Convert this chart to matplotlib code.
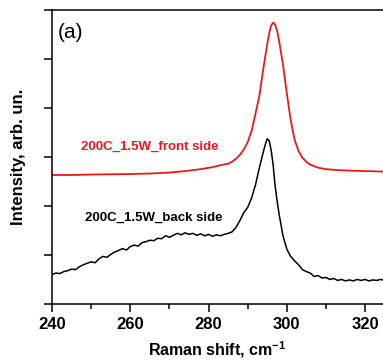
import matplotlib
matplotlib.use('Agg')
import matplotlib.pyplot as plt
from matplotlib.ticker import MultipleLocator, NullFormatter

plt.rcParams['font.family'] = ['Liberation Sans', 'DejaVu Sans']
plt.rcParams['mathtext.fontset'] = 'custom'
plt.rcParams['mathtext.bf'] = 'Liberation Sans:bold'
plt.rcParams['mathtext.rm'] = 'Liberation Sans:bold'

# Raman spectrum, front side (red)
front_x = [240, 245, 250, 255, 260, 265, 270, 274, 278, 281, 283, 285, 286,
           287, 288, 289, 290, 291, 292, 293, 294, 295, 295.5, 296, 296.5,
           297, 297.5, 298, 299, 300, 301, 302, 303, 304, 305, 306, 308,
           310, 313, 316, 320, 325]
front_y = [2.63, 2.63, 2.64, 2.645, 2.65, 2.66, 2.68, 2.71, 2.75, 2.79, 2.83,
           2.86, 2.90, 2.96, 3.04, 3.15, 3.30, 3.53, 3.88, 4.25, 4.80, 5.30,
           5.52, 5.68, 5.74, 5.70, 5.58, 5.38, 4.90, 4.30, 3.75, 3.35, 3.12,
           2.98, 2.90, 2.84, 2.78, 2.75, 2.73, 2.72, 2.71, 2.70]

# Raman spectrum, back side (black)
back_x = list(range(240, 295)) + [294.5, 295, 295.5, 296, 296.5, 297, 297.5] \
    + list(range(298, 326))
back_y = [0.60, 0.63, 0.62, 0.66, 0.68, 0.71, 0.70, 0.76, 0.80, 0.83,
          0.86, 0.84, 0.92, 0.97, 0.95, 1.01, 1.06, 1.09, 1.13, 1.10,
          1.17, 1.20, 1.18, 1.25, 1.27, 1.30, 1.29, 1.34, 1.33, 1.39,
          1.36, 1.40, 1.44, 1.41, 1.45, 1.42, 1.44, 1.40, 1.43, 1.39,
          1.42, 1.38, 1.41, 1.39, 1.42, 1.44, 1.47, 1.56, 1.70, 1.86,
          1.97, 2.16, 2.43, 2.78, 3.10,
          3.25, 3.37, 3.33, 3.14, 2.85, 2.42, 2.12,
          1.85, 1.40, 1.12, 0.97, 0.88, 0.80, 0.70, 0.66, 0.63, 0.56,
          0.58, 0.53, 0.54, 0.50, 0.52, 0.48, 0.50, 0.47, 0.49, 0.47,
          0.50, 0.48, 0.50, 0.47, 0.49, 0.48, 0.50, 0.48]

labels = ['200C_1.5W_front side', '200C_1.5W_back side']

fig = plt.figure(figsize=(3.83, 3.64), dpi=100)
ax = fig.add_axes([0.136, 0.165, 0.864, 0.808])

ax.plot(front_x, front_y, color='#e8191e', lw=1.3)
ax.plot(back_x, back_y, color='black', lw=1.1)

ax.text(265.0, 3.20, labels[0], color='#e8191e', fontsize=9.5,
        fontweight='bold', ha='center', va='center')
ax.text(266.0, 1.76, labels[1], color='black', fontsize=9.5,
        fontweight='bold', ha='center', va='center')
ax.text(241.4, 5.53, '(a)', fontsize=15, ha='left', va='center')

ax.set_xlim(240, 324.6)
ax.set_ylim(0, 6)
ax.xaxis.set_major_locator(MultipleLocator(20))
ax.xaxis.set_minor_locator(MultipleLocator(10))
ax.yaxis.set_major_locator(MultipleLocator(1))
ax.yaxis.set_major_formatter(NullFormatter())
ax.tick_params(axis='both', which='major', direction='out', length=6,
               width=1.1, labelsize=12)
ax.tick_params(axis='both', which='minor', direction='out', length=3.5,
               width=1.1)
for lbl in ax.get_xticklabels():
    lbl.set_fontweight('bold')
ax.spines['right'].set_visible(False)
for s in ('left', 'bottom', 'top'):
    ax.spines[s].set_linewidth(1.1)

ax.set_xlabel('Raman shift, cm$^{-1}$', fontsize=11.5,
              fontweight='bold', labelpad=5)
ax.set_ylabel('Intensity, arb. un.', fontsize=12, fontweight='bold',
              labelpad=9)

fig.savefig('out.png', dpi=100)
